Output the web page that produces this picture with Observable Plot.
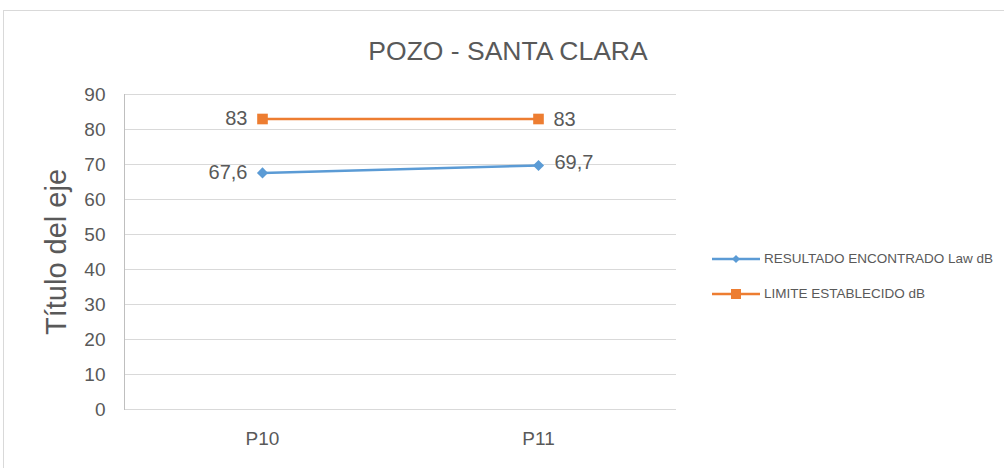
<!DOCTYPE html>
<html><head><meta charset="utf-8">
<script src="https://cdn.jsdelivr.net/npm/d3@7"></script>
<script src="https://cdn.jsdelivr.net/npm/@observablehq/plot@0.6"></script>
<style>
html,body{margin:0;padding:0;background:#fff;}
#wrap{position:relative;width:1004px;height:468px;overflow:hidden;font-family:"Liberation Sans",Arial,sans-serif;}
#frame{position:absolute;left:3px;top:10px;width:1010px;height:470px;border:1px solid #d9d9d9;box-sizing:border-box;}
#title{position:absolute;left:0;width:1016px;top:35px;text-align:center;font-size:26.5px;color:#595959;line-height:32px;}
#ylab{position:absolute;left:56px;top:252px;transform:translate(-50%,-50%) rotate(-90deg);font-size:29px;color:#595959;white-space:nowrap;}
#legend{position:absolute;left:712px;top:241px;font-size:13.5px;color:#595959;}
.li{display:flex;align-items:center;height:35px;}
.li svg{margin-right:4px;}
#chart{position:absolute;left:0;top:0;}
</style></head>
<body><div id="wrap"><div id="frame"></div><div id="chart"></div><div id="title"></div><div id="ylab"></div><div id="legend"></div></div>
<script>
const titleText = "POZO - SANTA CLARA";
const yTitle = "Título del eje";
const categories = ["P10", "P11"];
const seriesNames = ["RESULTADO ENCONTRADO Law dB", "LIMITE ESTABLECIDO dB"];
const resultado = [67.6, 69.7];
const limite = [83, 83];
const yTicks = [0, 10, 20, 30, 40, 50, 60, 70, 80, 90];
const colors = ["#5b9bd5", "#ed7d31"];

const data = [];
[resultado, limite].forEach((vals, s) => vals.forEach((v, i) => data.push({cat: categories[i], value: v, series: seriesNames[s], idx: i, s})));
const fmt = v => String(v).replace(".", ",");

const chart = Plot.plot({
  width: 1004, height: 468,
  marginLeft: 124, marginRight: 328, marginTop: 94, marginBottom: 59,
  style: {fontFamily: "Liberation Sans, Arial, sans-serif", fontSize: "19px", color: "#595959", background: "transparent"},
  x: {type: "point", domain: categories, padding: 0.5, label: null, tickSize: 0, tickPadding: 22},
  y: {domain: [0, 90], ticks: yTicks, label: null, tickSize: 0, tickPadding: 19},
  marks: [
    Plot.gridY(yTicks, {stroke: "#d9d9d9", strokeOpacity: 1, strokeWidth: 1}),
    Plot.frame({anchor: "left", stroke: "#bfbfbf"}),
    Plot.line(data, {x: "cat", y: "value", z: "series", stroke: d => colors[d.s], strokeWidth: 2.5}),
    Plot.dot(data.filter(d => d.s === 0), {x: "cat", y: "value", fill: colors[0], stroke: "none", symbol: "diamond2", r: 5}),
    Plot.dot(data.filter(d => d.s === 1), {x: "cat", y: "value", fill: colors[1], stroke: "none", symbol: "square", r: 6}),
    Plot.text(data.filter(d => d.idx === 0), {x: "cat", y: "value", text: d => fmt(d.value), textAnchor: "end", dx: -15, fontSize: 20, fill: "#595959"}),
    Plot.text(data.filter(d => d.idx === 1 && d.s === 1), {x: "cat", y: "value", text: d => fmt(d.value), textAnchor: "start", dx: 15, dy: 1, fontSize: 20, fill: "#595959"}),
    Plot.text(data.filter(d => d.idx === 1 && d.s === 0), {x: "cat", y: "value", text: d => fmt(d.value), textAnchor: "start", dx: 16, dy: -3, fontSize: 20, fill: "#595959"})
  ]
});
document.getElementById("chart").appendChild(chart);
document.getElementById("title").textContent = titleText;
document.getElementById("ylab").textContent = yTitle;
const leg = document.getElementById("legend");
seriesNames.forEach((n, i) => {
  const div = document.createElement("div");
  div.className = "li";
  const mk = i === 0
    ? `<path d="M24,-4 L28,0 L24,4 L20,0Z" fill="${colors[i]}"/>`
    : `<rect x="19" y="-5" width="10" height="10" fill="${colors[i]}"/>`;
  div.innerHTML = `<svg width="48" height="12" viewBox="0 -6 48 12"><line x1="0" x2="48" y1="0" y2="0" stroke="${colors[i]}" stroke-width="2.5"/>${mk}</svg><span>${n}</span>`;
  leg.appendChild(div);
});
</script></body></html>
